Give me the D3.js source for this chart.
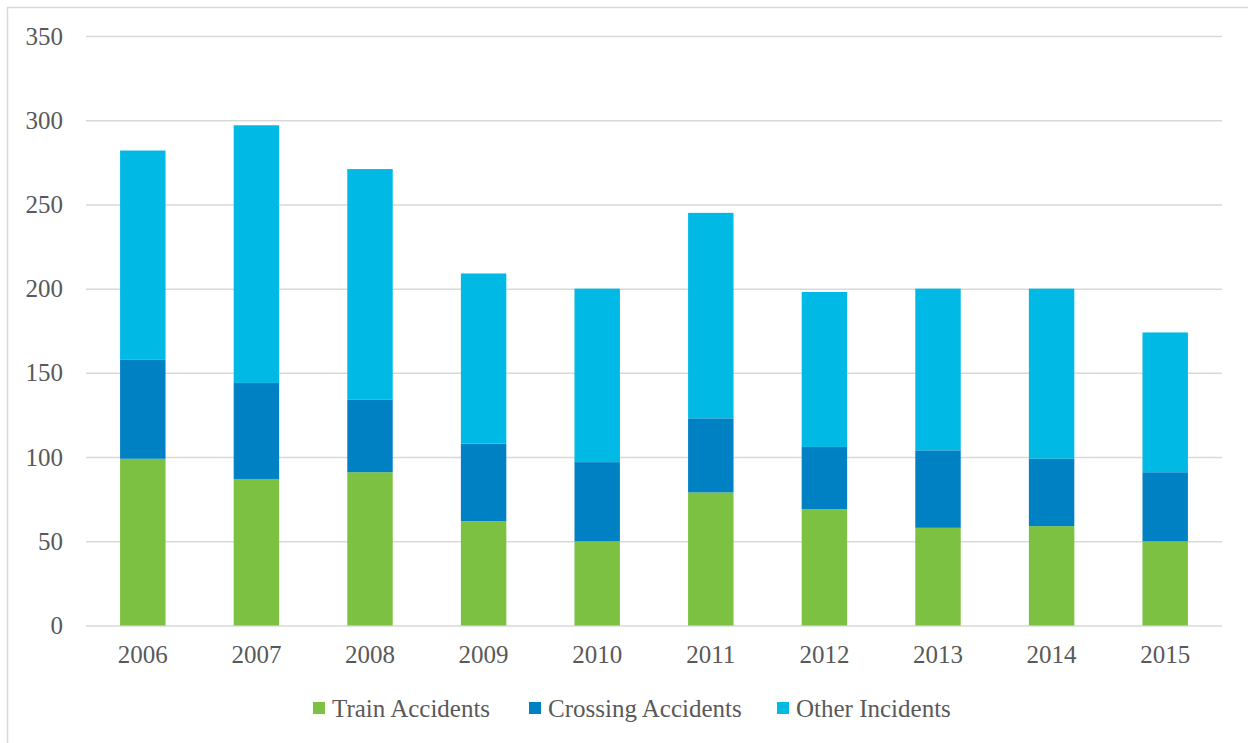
<!DOCTYPE html>
<html>
<head>
<meta charset="utf-8">
<script src="https://cdn.jsdelivr.net/npm/d3@7"></script>
<style>
  html, body { margin: 0; padding: 0; background: #fff; }
  svg { display: block; }
  text { font-family: "Liberation Serif", "DejaVu Serif", serif; fill: #595959; }
</style>
</head>
<body>
<svg id="chart" width="1248" height="743"></svg>
<script>
// Incident counts per year, stacked bottom to top
const years = ["2006", "2007", "2008", "2009", "2010", "2011", "2012", "2013", "2014", "2015"];
const trainAccidents    = [99, 87, 91, 62, 50, 79, 69, 58, 59, 50];
const crossingAccidents = [59, 57, 43, 46, 47, 44, 37, 46, 40, 41];
const otherIncidents    = [124, 153, 137, 101, 103, 122, 92, 96, 101, 83];
const seriesNames = ["Train Accidents", "Crossing Accidents", "Other Incidents"];
const seriesColors = ["#7cc142", "#0081c3", "#00bae5"];
const yTicks = [0, 50, 100, 150, 200, 250, 300, 350];

const svg = d3.select("#chart");
const W = 1248, H = 743;
const plot = { left: 86, right: 1222, top: 36, bottom: 625.5 };

// outer frame (extends past the right and bottom edges)
svg.append("rect")
  .attr("x", 7.5).attr("y", 7.5)
  .attr("width", W + 20).attr("height", H + 20)
  .attr("fill", "none").attr("stroke", "#d9d9d9").attr("stroke-width", 1.5);

const rows = years.map((y, i) => ({
  year: y,
  "Train Accidents": trainAccidents[i],
  "Crossing Accidents": crossingAccidents[i],
  "Other Incidents": otherIncidents[i]
}));

const stack = d3.stack().keys(seriesNames)(rows);

const x = d3.scaleBand().domain(years).range([plot.left, plot.right]).paddingInner(0.6).paddingOuter(0.3);
const y = d3.scaleLinear().domain([0, 350]).range([plot.bottom, plot.top]);
const color = d3.scaleOrdinal().domain(seriesNames).range(seriesColors);

// horizontal gridlines with left labels
const yAxis = d3.axisLeft(y).tickValues(yTicks).tickSize(-(plot.right - plot.left)).tickPadding(23);
const gy = svg.append("g").attr("transform", `translate(${plot.left},0)`).call(yAxis);
gy.select(".domain").remove();
gy.selectAll(".tick line").attr("stroke", "#d9d9d9").attr("stroke-width", 1.5);
gy.selectAll(".tick text").style("font-size", "25px").attr("dy", "0.32em");

// stacked bars
svg.append("g").selectAll("g")
  .data(stack).join("g")
  .attr("fill", d => color(d.key))
  .selectAll("rect")
  .data(d => d).join("rect")
  .attr("x", d => x(d.data.year))
  .attr("width", x.bandwidth())
  .attr("y", d => y(d[1]))
  .attr("height", d => y(d[0]) - y(d[1]));

// category axis
const xAxis = d3.axisBottom(x).tickSize(0).tickPadding(20);
const gx = svg.append("g").attr("transform", `translate(0,${plot.bottom})`).call(xAxis);
gx.select(".domain").remove();
gx.selectAll(".tick text").style("font-size", "25px");

// legend
const legendItems = [
  { name: seriesNames[0], sx: 313, tx: 332 },
  { name: seriesNames[1], sx: 529, tx: 548 },
  { name: seriesNames[2], sx: 777, tx: 796 }
];
const lg = svg.append("g");
legendItems.forEach(it => {
  lg.append("rect").attr("x", it.sx).attr("y", 702).attr("width", 12).attr("height", 12)
    .attr("fill", color(it.name));
  lg.append("text").attr("x", it.tx).attr("y", 708).attr("dy", "0.35em")
    .style("font-size", "25px").text(it.name);
});
</script>
</body>
</html>
